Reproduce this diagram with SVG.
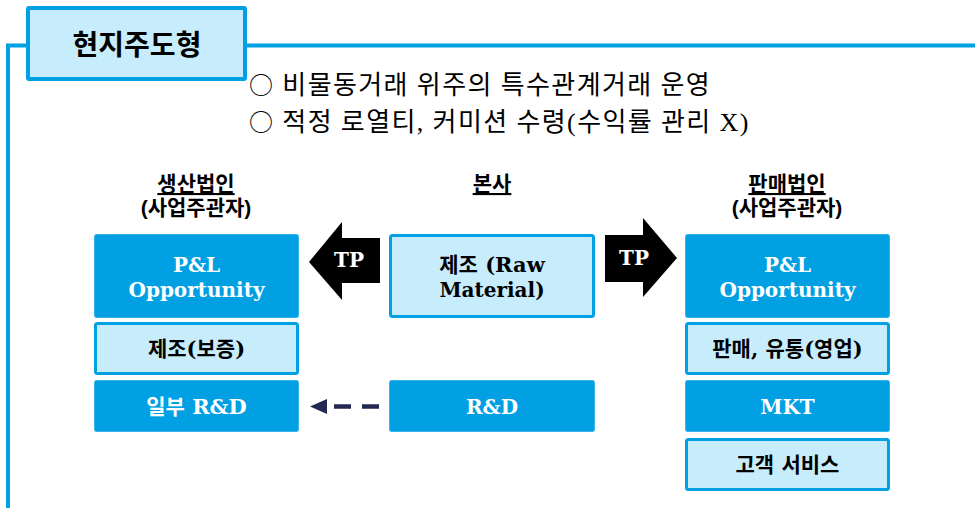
<svg xmlns="http://www.w3.org/2000/svg" width="975" height="508" viewBox="0 0 975 508">
<style>
.frame{fill:none;stroke:#00a0e3;stroke-width:4}
.dark{fill:#00a0e3;stroke:#33b3ea;stroke-width:1}
.light{fill:#c7ecfc;stroke:#00a0e3;stroke-width:3}
.t{font-family:"DejaVu Serif","Noto Sans CJK KR",serif;font-weight:bold;font-size:20px;text-anchor:middle}
.kr{font-size:21px}
.w{fill:#ffffff}
.k{fill:#000000}
.hdr{font-family:"Liberation Sans","Noto Sans CJK KR",sans-serif;font-weight:bold;font-size:21px;text-anchor:middle;fill:#000}
.bul{font-family:"Liberation Serif","Noto Sans CJK KR",serif;font-size:26px;letter-spacing:1.4px;fill:#000}
.circ{font-family:"Noto Sans CJK KR",sans-serif;font-size:24px}
.tp{fill:#000}
</style>
<g id="frame">
<path class="frame" d="M8,508 V45.5 H27 M246,45.5 H975"/>
</g>
<g id="title">
<rect x="28" y="8" width="217" height="71" fill="#c7ecfc" stroke="#00a0e3" stroke-width="4" rx="1"/>
<text x="137" y="55" font-family="Noto Sans CJK KR, sans-serif" font-weight="bold" font-size="28" text-anchor="middle">현지주도형</text>
</g>
<g id="bullets">
<text class="bul" x="249" y="94"><tspan class="circ">○</tspan> 비물동거래 위주의 특수관계거래 운영</text>
<text class="bul" x="249" y="131"><tspan class="circ">○</tspan> 적정 로열티, 커미션 수령(수익률 관리 X)</text>
</g>
<g id="hdr-left">
<text class="hdr" x="196" y="191" text-decoration="underline">생산법인</text>
<text class="hdr" x="196" y="215">(사업주관자)</text>
</g>
<g id="hdr-center">
<text class="hdr" x="492" y="191" text-decoration="underline">본사</text>
</g>
<g id="hdr-right">
<text class="hdr" x="787" y="191" text-decoration="underline">판매법인</text>
<text class="hdr" x="787" y="215">(사업주관자)</text>
</g>
<g id="left-pl">
<rect class="dark" x="94.5" y="234.5" width="204" height="83" rx="2"/>
<text class="t w" x="196.5" y="272">P&amp;L</text>
<text class="t w" x="196.5" y="297">Opportunity</text>
</g>
<g id="left-mfg">
<rect class="light" x="95.5" y="323.5" width="202" height="50" rx="2"/>
<text class="t k kr" x="196.5" y="356">제조(보증)</text>
</g>
<g id="left-rd">
<rect class="dark" x="94.5" y="380.5" width="204" height="51" rx="2"/>
<text class="t w kr" x="196.5" y="414">일부 R&amp;D</text>
</g>
<g id="center-mfg">
<rect class="light" x="390.5" y="235.5" width="203" height="81" rx="2"/>
<text class="t k kr" x="492" y="272">제조 (Raw</text>
<text class="t k" x="492" y="297">Material)</text>
</g>
<g id="center-rd">
<rect class="dark" x="389.5" y="380.5" width="205" height="51" rx="2"/>
<text class="t w" x="492" y="414">R&amp;D</text>
</g>
<g id="right-pl">
<rect class="dark" x="685.5" y="234.5" width="204" height="83" rx="2"/>
<text class="t w" x="787.5" y="272">P&amp;L</text>
<text class="t w" x="787.5" y="297">Opportunity</text>
</g>
<g id="right-sales">
<rect class="light" x="686.5" y="323.5" width="202" height="50" rx="2"/>
<text class="t k kr" x="787.5" y="356">판매, 유통(영업)</text>
</g>
<g id="right-mkt">
<rect class="dark" x="685.5" y="380.5" width="204" height="51" rx="2"/>
<text class="t w" x="787.5" y="414">MKT</text>
</g>
<g id="right-cs">
<rect class="light" x="686.5" y="439.5" width="202" height="50" rx="2"/>
<text class="t k kr" x="787.5" y="472">고객 서비스</text>
</g>
<g id="connectors">
<g id="tp-left">
<polygon class="tp" points="309,262 342,222 342,238 380,238 380,283 342,283 342,300"/>
<text class="t w" x="349" y="267" font-size="18">TP</text>
</g>
<g id="tp-right">
<polygon class="tp" points="605,235 643,235 643,218 677,258 643,297 643,282 605,282"/>
<text class="t w" x="634" y="265" font-size="18">TP</text>
</g>
<g id="rd-dash">
<line x1="379" y1="406.5" x2="327" y2="406.5" stroke="#232852" stroke-width="4.5" stroke-dasharray="17,11"/>
<polygon points="310,406.5 327,399 327,414" fill="#232852"/>
</g>
</g>
</svg>
